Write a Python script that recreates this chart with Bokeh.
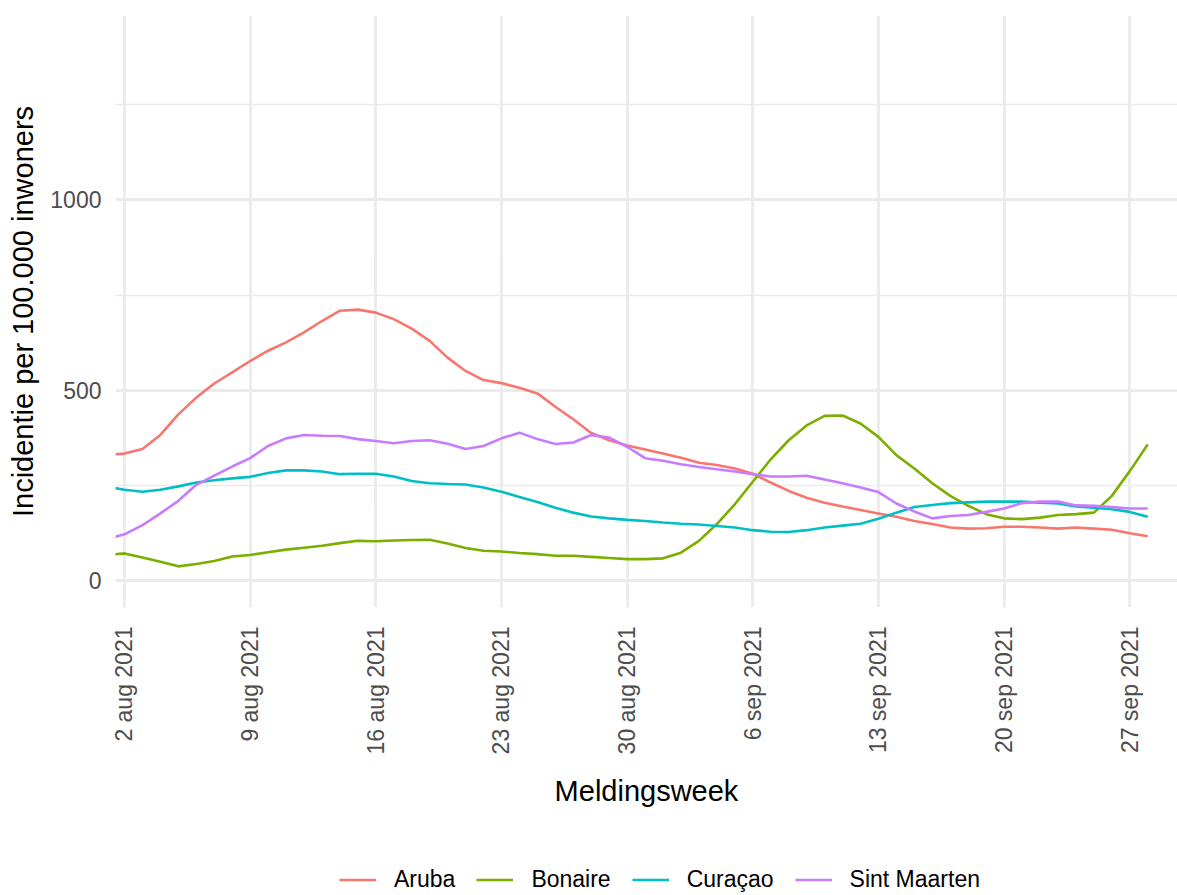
import math
import pandas as pd
from bokeh.plotting import figure
from bokeh.layouts import column
from bokeh.models import Range1d, FixedTicker, Legend, LegendItem
from bokeh.embed import file_html
from bokeh.resources import INLINE

# ---- data ----
dates = pd.date_range("2021-08-01", "2021-09-28", freq="D")

aruba = [331, 334, 346, 383, 437, 481, 518, 547, 577, 604, 626, 652, 682, 709, 712,
         704, 687, 662, 630, 586, 551, 527, 519, 507, 492, 457, 424, 388, 369, 355,
         345, 334, 323, 310, 304, 295, 281, 258, 236, 218, 205, 195, 186, 177, 168,
         157, 149, 140, 137, 138, 142, 142, 140, 137, 140, 137, 134, 125, 117]

bonaire = [68, 72, 61, 50, 38, 44, 52, 64, 68, 75, 82, 87, 92, 99, 105,
           104, 106, 107, 108, 98, 86, 79, 77, 73, 70, 66, 66, 63, 60, 57,
           57, 59, 74, 105, 149, 201, 260, 319, 369, 408, 433, 434, 413, 378, 330,
           295, 256, 223, 197, 175, 164, 162, 166, 173, 175, 179, 223, 288, 358]

curacao = [247, 239, 234, 239, 248, 258, 264, 269, 273, 283, 290, 290, 287, 280, 281,
           281, 274, 262, 256, 254, 253, 245, 234, 220, 207, 192, 179, 169, 164, 160,
           157, 153, 150, 148, 144, 140, 133, 129, 128, 133, 140, 145, 150, 163, 179,
           194, 199, 204, 206, 208, 208, 208, 205, 203, 195, 192, 188, 181, 168]

sint_maarten = [109, 122, 146, 177, 210, 252, 276, 300, 322, 354, 374, 383, 381, 380, 372,
                367, 361, 367, 369, 360, 346, 354, 374, 389, 372, 359, 363, 383, 376, 352,
                322, 315, 306, 299, 293, 287, 280, 274, 274, 276, 266, 256, 245, 233, 203,
                182, 164, 170, 173, 181, 190, 204, 208, 208, 198, 197, 194, 190, 190]

series_names = ["Aruba", "Bonaire", "Curaçao", "Sint Maarten"]
series_colors = ["#F8766D", "#7CAE00", "#00BFC4", "#C77CFF"]

tick_dates = ["2021-08-02", "2021-08-09", "2021-08-16", "2021-08-23", "2021-08-30",
              "2021-09-06", "2021-09-13", "2021-09-20", "2021-09-27"]
tick_labels = ["2 aug 2021", "9 aug 2021", "16 aug 2021", "23 aug 2021", "30 aug 2021",
               "6 sep 2021", "13 sep 2021", "20 sep 2021", "27 sep 2021"]
y_ticks = [0, 500, 1000]
y_minor_ticks = [250, 750, 1250]

# ---- derived positions (days relative to first tick) ----
origin = pd.Timestamp(tick_dates[0])
x = [(d - origin).days for d in dates]
tick_pos = [(pd.Timestamp(t) - origin).days for t in tick_dates]
all_series = [aruba, bonaire, curacao, sint_maarten]

FONT = "Liberation Sans"

p = figure(frame_width=1062, frame_height=592, output_backend="svg", toolbar_location=None,
           x_range=Range1d(-0.5, 58.66), y_range=Range1d(-70, 1484),
           min_border_left=115, min_border_top=15, min_border_right=0,
           min_border_bottom=210)
p.outline_line_color = None
p.background_fill_color = "white"
p.border_fill_color = "white"

for vals, col in zip(all_series, series_colors):
    p.line(x, vals, line_color=col, line_width=2.6)

# axes
p.xaxis.ticker = FixedTicker(ticks=tick_pos)
p.xaxis.major_label_overrides = {t: lab for t, lab in zip(tick_pos, tick_labels)}
p.xaxis.major_label_orientation = math.pi / 2
p.yaxis.ticker = FixedTicker(ticks=y_ticks, minor_ticks=y_minor_ticks)

for ax in (p.xaxis, p.yaxis):
    ax.axis_line_color = None
    ax.major_tick_line_color = None
    ax.minor_tick_line_color = None
    ax.major_tick_in = 0
    ax.major_tick_out = 0
    ax.minor_tick_in = 0
    ax.minor_tick_out = 0
    ax.major_label_text_font = FONT
    ax.major_label_text_font_size = "23px"
    ax.major_label_text_color = "#4D4D4D"
    ax.axis_label_text_font = FONT
    ax.axis_label_text_font_size = "29px"
    ax.axis_label_text_font_style = "normal"
    ax.axis_label_text_color = "black"

p.xaxis.axis_label = "Meldingsweek"
p.yaxis.axis_label = "Incidentie per 100.000 inwoners"
p.xaxis.major_label_standoff = 19
p.yaxis.major_label_standoff = 14
p.xaxis.axis_label_standoff = 18
p.yaxis.axis_label_standoff = 8

# grid
p.xgrid.grid_line_color = "#EBEBEB"
p.xgrid.grid_line_width = 2.8
p.ygrid.grid_line_color = "#EBEBEB"
p.ygrid.grid_line_width = 2.8
p.ygrid.minor_grid_line_color = "#EBEBEB"
p.ygrid.minor_grid_line_width = 1.4

# ---- legend strip below the chart (series drawn out of view, only the key shows) ----
lg = figure(frame_width=1177, frame_height=78, output_backend="svg", toolbar_location=None,
            x_axis_location=None, y_axis_location=None,
            min_border_left=0, min_border_right=0, min_border_top=0, min_border_bottom=0,
            x_range=Range1d(1000, 1001), y_range=Range1d(0, 1))
lg.outline_line_color = None
lg.xgrid.visible = False
lg.ygrid.visible = False
lg_renderers = [lg.line(x, vals, line_color=col, line_width=2.6)
                for vals, col in zip(all_series, series_colors)]

legend = Legend(items=[LegendItem(label=n, renderers=[r]) for n, r in zip(series_names, lg_renderers)],
                orientation="horizontal", location=(339, 2),
                glyph_width=37, glyph_height=23, label_standoff=18, spacing=21,
                padding=0, margin=0, border_line_color=None, background_fill_alpha=0,
                label_text_font=FONT, label_text_font_size="23px", label_text_color="black")
lg.add_layout(legend, "center")

layout = column(p, lg, spacing=0)
open("out.html", "w").write(file_html(layout, INLINE))
